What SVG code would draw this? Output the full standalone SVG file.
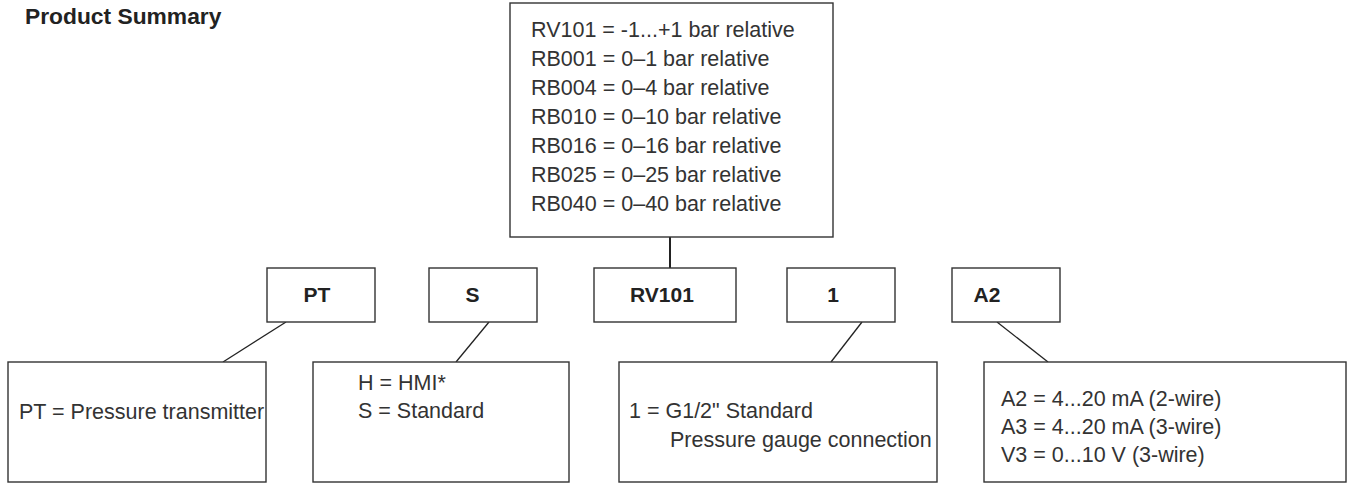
<svg xmlns="http://www.w3.org/2000/svg" width="1348" height="486" viewBox="0 0 1348 486">
  <style>
    .box { fill: #ffffff; stroke: #333333; stroke-width: 1.4; }
    .conn { stroke: #222222; stroke-width: 1.3; fill: none; }
    .vconn { stroke: #222222; stroke-width: 2; fill: none; }
    .t { font-family: "Liberation Sans", Arial, Helvetica, sans-serif; font-size: 21.5px; fill: #333333; }
    .b { font-family: "Liberation Sans", Arial, Helvetica, sans-serif; font-size: 21px; font-weight: bold; fill: #222222; text-anchor: middle; }
    .title { font-family: "Liberation Sans", Arial, Helvetica, sans-serif; font-size: 22.8px; font-weight: bold; fill: #222222; }
  </style>
  <rect width="1348" height="486" fill="#ffffff"/>
  <text class="title" x="25" y="24">Product Summary</text>

  <g id="connectors">
    <line class="vconn" x1="670" y1="237" x2="670" y2="268"/>
    <line class="conn" x1="286" y1="322" x2="223" y2="362"/>
    <line class="conn" x1="489" y1="322" x2="456" y2="362"/>
    <line class="conn" x1="862" y1="322" x2="831" y2="362"/>
    <line class="conn" x1="997" y1="322" x2="1048" y2="362"/>
  </g>

  <g id="range-options">
    <rect class="box" x="510" y="3" width="323" height="234"/>
    <text class="t" x="531" y="37">RV101 = -1...+1 bar relative</text>
    <text class="t" x="531" y="66">RB001 = 0–1 bar relative</text>
    <text class="t" x="531" y="95">RB004 = 0–4 bar relative</text>
    <text class="t" x="531" y="124">RB010 = 0–10 bar relative</text>
    <text class="t" x="531" y="153">RB016 = 0–16 bar relative</text>
    <text class="t" x="531" y="182">RB025 = 0–25 bar relative</text>
    <text class="t" x="531" y="211">RB040 = 0–40 bar relative</text>
  </g>

  <g id="code-pt">
    <rect class="box" x="267" y="268" width="108" height="54"/>
    <text class="b" x="317" y="302">PT</text>
  </g>
  <g id="code-s">
    <rect class="box" x="429" y="268" width="108" height="54"/>
    <text class="b" x="472.5" y="302">S</text>
  </g>
  <g id="code-rv101">
    <rect class="box" x="594" y="268" width="142" height="54"/>
    <text class="b" x="662" y="302">RV101</text>
  </g>
  <g id="code-1">
    <rect class="box" x="787" y="268" width="108" height="54"/>
    <text class="b" x="833" y="302">1</text>
  </g>
  <g id="code-a2">
    <rect class="box" x="952" y="268" width="108" height="54"/>
    <text class="b" x="987" y="302">A2</text>
  </g>

  <g id="desc-pt">
    <rect class="box" x="8" y="362" width="258" height="120"/>
    <text class="t" x="19" y="419">PT = Pressure transmitter</text>
  </g>
  <g id="desc-s">
    <rect class="box" x="313" y="362" width="256" height="120"/>
    <text class="t" x="358" y="390">H = HMI*</text>
    <text class="t" x="358" y="418">S = Standard</text>
  </g>
  <g id="desc-1">
    <rect class="box" x="619" y="362" width="318" height="120"/>
    <text class="t" x="629" y="418">1 = G1/2" Standard</text>
    <text class="t" x="670" y="447">Pressure gauge connection</text>
  </g>
  <g id="desc-a2">
    <rect class="box" x="984" y="362" width="362" height="120"/>
    <text class="t" x="1001" y="406">A2 = 4...20 mA (2-wire)</text>
    <text class="t" x="1001" y="434">A3 = 4...20 mA (3-wire)</text>
    <text class="t" x="1001" y="462">V3 = 0...10 V (3-wire)</text>
  </g>
</svg>
